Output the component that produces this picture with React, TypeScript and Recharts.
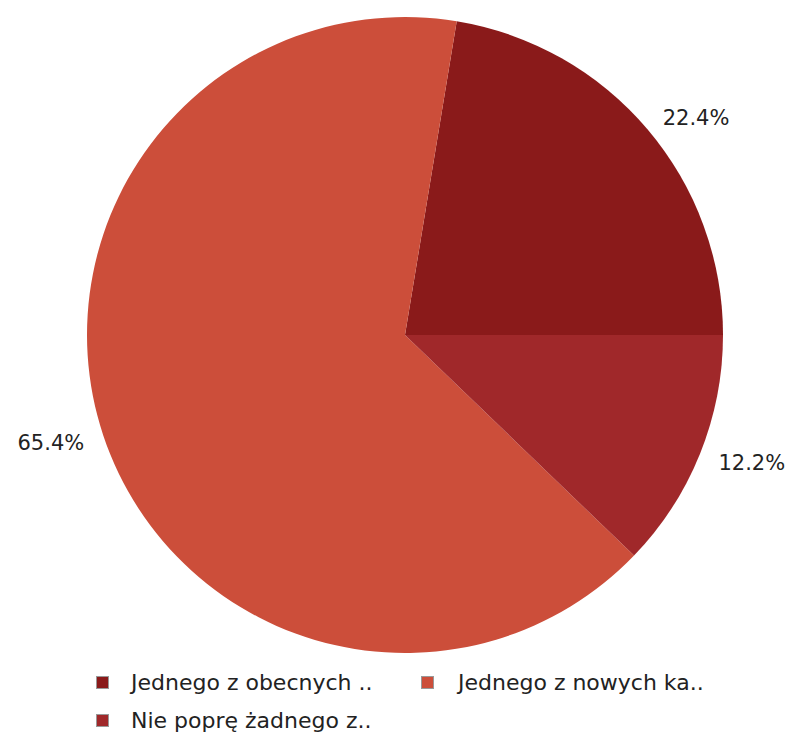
import { PieChart, Pie, Cell, Legend } from 'recharts';

const names = ['Jednego z obecnych ..', 'Jednego z nowych ka..', 'Nie poprę żadnego z..'];
const values = [22.4, 65.4, 12.2];
const COLORS = ['#8a1a1a', '#cc4e3a', '#a0282a'];

const chartData = names.map((name, i) => ({ name, value: values[i] }));

const RAD = Math.PI / 180;

// labels sit just outside the pie, anchored on the side facing the centre
const renderLabel = ({ cx, cy, midAngle, value }: any) => {
  const r = 338;
  const cos = Math.cos(-midAngle * RAD);
  const sin = Math.sin(-midAngle * RAD);
  const x = cx + r * cos;
  const y = cy + r * sin + 2;
  return (
    <text
      x={x}
      y={y}
      textAnchor={cos >= 0 ? 'start' : 'end'}
      dominantBaseline="central"
      fill="#222"
      fontSize={21}
    >
      {`${value.toFixed(1)}%`}
    </text>
  );
};

const legendPos = [
  { left: 96, top: 676 },
  { left: 421, top: 676 },
  { left: 96, top: 714 },
];

const renderLegend = () => (
  <div style={{ position: 'relative', width: 789, height: 734 }}>
    {chartData.map((d, i) => (
      <div
        key={d.name}
        style={{
          position: 'absolute',
          left: legendPos[i].left,
          top: legendPos[i].top,
          display: 'flex',
          alignItems: 'center',
          whiteSpace: 'nowrap',
        }}
      >
        <span
          style={{
            display: 'inline-block',
            width: 11,
            height: 11,
            background: COLORS[i],
            border: '1px solid #999',
            marginRight: i === 1 ? 24 : 22,
          }}
        />
        <span style={{ fontSize: 22, color: '#222', lineHeight: '13px' }}>{d.name}</span>
      </div>
    ))}
  </div>
);

export default function App() {
  return (
    <div style={{ position: 'absolute', left: 0, top: 0, fontFamily: 'DejaVu Sans', background: '#fff' }}>
      <PieChart width={789} height={734} margin={{ top: 0, right: 0, bottom: 0, left: 0 }}>
        <Pie
          data={chartData}
          dataKey="value"
          cx={405}
          cy={335}
          outerRadius={318}
          startAngle={0}
          endAngle={360}
          labelLine={false}
          label={renderLabel}
          stroke="none"
          isAnimationActive={false}
        >
          {chartData.map((_e, i) => (
            <Cell key={`cell-${i}`} fill={COLORS[i]} />
          ))}
        </Pie>
        <Legend
          content={renderLegend}
          wrapperStyle={{ position: 'absolute', left: 0, top: 0, width: 789, height: 734 }}
        />
      </PieChart>
    </div>
  );
}
